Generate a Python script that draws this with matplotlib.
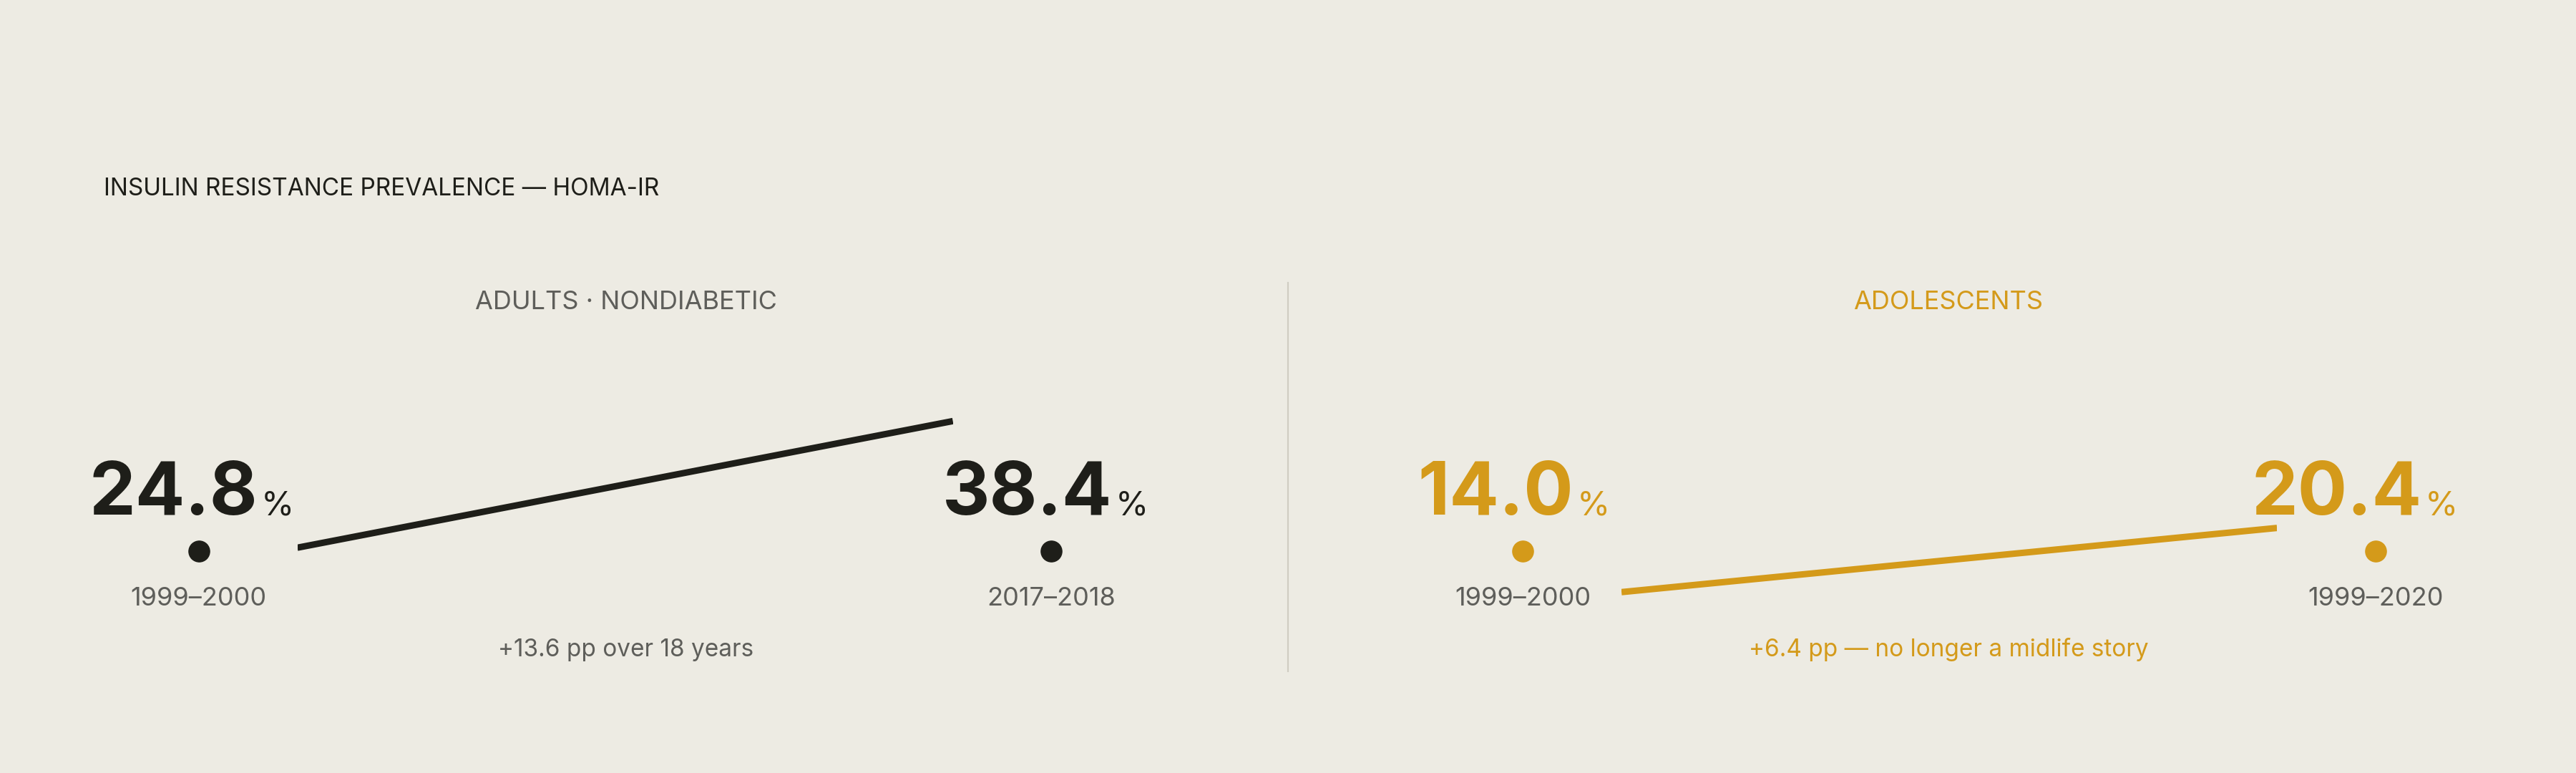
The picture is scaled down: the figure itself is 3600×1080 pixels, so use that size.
import matplotlib
matplotlib.use("Agg")
import matplotlib.pyplot as plt

panels = ["ADULTS · NONDIABETIC", "ADOLESCENTS"]
start_vals = [24.8, 14.0]
end_vals = [38.4, 20.4]
start_labels = ["1999–2000", "1999–2000"]
end_labels = ["2017–2018", "1999–2020"]
notes = ["+13.6 pp over 18 years", "+6.4 pp — no longer a midlife story"]

BG = "#EDEBE3"
DARK = "#1E1E19"
GOLD = "#D49A1A"
GRAY = "#5E5E5A"
colors = [DARK, GOLD]
title_colors = [GRAY, GOLD]
note_colors = [GRAY, GOLD]
FONT = ["Inter", "DejaVu Sans"]

W, H = 1568, 470
def fx(p): return p / W
def fy(p): return 1 - p / H

fig = plt.figure(figsize=(36, 10.8), dpi=100, facecolor=BG)

fig.text(fx(63), fy(115), "INSULIN RESISTANCE PREVALENCE — HOMA-IR", family=FONT,
         fontsize=24, color=DARK, va="center", ha="left")

# divider
fig.add_artist(plt.Line2D([0.5, 0.5], [fy(172), fy(408)], color="#CFCCC2", lw=1.5))

# layout per panel
centers = [381, 1186]
dot_x = [(121, 640), (927, 1446)]
num_right = [(157, 677), (958, 1474)]
line_px = [(181, 580), (987, 1386)]
ylims = [(16.50, 41.23), (10.72, 33.69)]

for i in range(2):
    c = colors[i]
    fig.text(fx(centers[i]), fy(184), panels[i], family=FONT, fontsize=26,
             color=title_colors[i], ha="center", va="center")
    vals = [start_vals[i], end_vals[i]]
    labs = [start_labels[i], end_labels[i]]
    for j in range(2):
        fig.text(fx(num_right[i][j]), fy(313), f"{vals[j]:.1f}", family=FONT,
                 fontsize=74, fontweight="bold", color=c, ha="right", va="baseline")
        fig.text(fx(num_right[i][j] + 2), fy(313), "%", family=FONT,
                 fontsize=34, color=c, ha="left", va="baseline")
        fig.text(fx(dot_x[i][j]), fy(364), labs[j], family=FONT, fontsize=26,
                 color=GRAY, ha="center", va="center")
        fig.add_artist(plt.Line2D([fx(dot_x[i][j])], [fy(335)], marker="o",
                                  markersize=21, color=c, lw=0))
    x0, x1 = line_px[i]
    ax = fig.add_axes([fx(x0), fy(380), fx(x1 - x0), (380 - 240) / H])
    ax.set_axis_off()
    ax.plot([0, 1], vals, color=c, lw=6.5, solid_capstyle="butt")
    ax.set_xlim(0, 1)
    ax.set_ylim(*ylims[i])
    fig.text(fx(centers[i]), fy(395), notes[i], family=FONT, fontsize=24,
             color=note_colors[i], ha="center", va="center")

fig.savefig("out.png", dpi=100, facecolor=BG)
